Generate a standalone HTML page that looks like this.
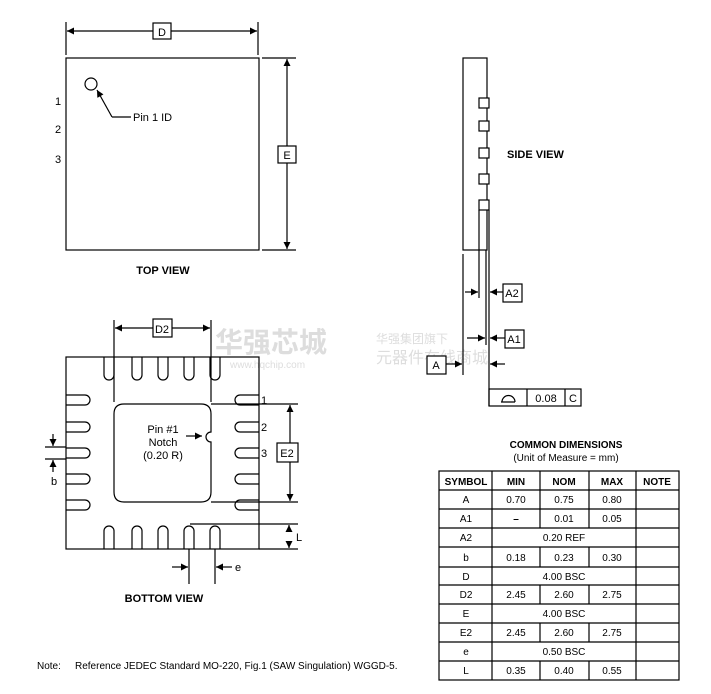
<!DOCTYPE html>
<html><head><meta charset="utf-8"><style>
html,body{margin:0;padding:0;background:#fff;}
svg{display:block;font-family:"Liberation Sans",Arial,sans-serif;}
</style></head><body>
<svg width="711" height="694" viewBox="0 0 711 694" xmlns="http://www.w3.org/2000/svg">
<defs>
<marker id="ar" viewBox="0 0 10 10" refX="10" refY="5" markerWidth="9" markerHeight="7" orient="auto-start-reverse" markerUnits="userSpaceOnUse"><path d="M0,0L10,5L0,10z" fill="#000"/></marker>
</defs>
<g fill="#ddd" font-family="'Liberation Sans','Noto Sans CJK SC',sans-serif">
<text x="215" y="352" font-size="28" font-weight="bold">华强芯城</text>
<text x="230" y="368" font-size="10">www.hqchip.com</text>
<text x="376" y="343" font-size="12">华强集团旗下</text>
<text x="376" y="363" font-size="16">元器件在线商城</text>
</g>
<g stroke="#000" stroke-width="1.2" fill="none">
<rect x="66" y="58" width="193" height="192"/>
<line x1="66" y1="22" x2="66" y2="55"/><line x1="258" y1="22" x2="258" y2="55"/>
<line x1="67" y1="31" x2="153" y2="31" marker-start="url(#ar)"/><line x1="171" y1="31" x2="257" y2="31" marker-end="url(#ar)"/>
<rect x="153" y="23" width="18" height="16" fill="#fff"/>
<line x1="262" y1="58" x2="296" y2="58"/><line x1="262" y1="250" x2="296" y2="250"/>
<line x1="287" y1="59" x2="287" y2="146" marker-start="url(#ar)"/><line x1="287" y1="163" x2="287" y2="249" marker-end="url(#ar)"/>
<rect x="278" y="146" width="18" height="17" fill="#fff"/>
<circle cx="91" cy="84" r="6"/>
<polyline points="112,117 131,117"/><line x1="112" y1="117" x2="97" y2="90" marker-end="url(#ar)"/>
<rect x="66" y="357" width="193" height="192"/>
<path d="M124,404 H201 Q211,404 211,414 V432 A5,5 0 0 0 211,442 V492 Q211,502 201,502 H124 Q114,502 114,492 V414 Q114,404 124,404 Z"/>
<g>
<path d="M104,357 V375 a5,5 0 0 0 10,0 V357"/><path d="M132,357 V375 a5,5 0 0 0 10,0 V357"/><path d="M158,357 V375 a5,5 0 0 0 10,0 V357"/><path d="M184,357 V375 a5,5 0 0 0 10,0 V357"/><path d="M210,357 V375 a5,5 0 0 0 10,0 V357"/>
<path d="M104,549 V531 a5,5 0 0 1 10,0 V549"/><path d="M132,549 V531 a5,5 0 0 1 10,0 V549"/><path d="M158,549 V531 a5,5 0 0 1 10,0 V549"/><path d="M184,549 V531 a5,5 0 0 1 10,0 V549"/><path d="M210,549 V531 a5,5 0 0 1 10,0 V549"/>
<path d="M66,395 H85 a5,5 0 0 1 0,10 H66"/><path d="M66,422 H85 a5,5 0 0 1 0,10 H66"/><path d="M66,448 H85 a5,5 0 0 1 0,10 H66"/><path d="M66,474 H85 a5,5 0 0 1 0,10 H66"/><path d="M66,500 H85 a5,5 0 0 1 0,10 H66"/>
<path d="M259,395 H240 a5,5 0 0 0 0,10 H259"/><path d="M259,422 H240 a5,5 0 0 0 0,10 H259"/><path d="M259,448 H240 a5,5 0 0 0 0,10 H259"/><path d="M259,474 H240 a5,5 0 0 0 0,10 H259"/><path d="M259,500 H240 a5,5 0 0 0 0,10 H259"/>
</g>
<line x1="114" y1="320" x2="114" y2="402"/><line x1="211" y1="320" x2="211" y2="402"/>
<line x1="115" y1="328" x2="153" y2="328" marker-start="url(#ar)"/><line x1="172" y1="328" x2="210" y2="328" marker-end="url(#ar)"/>
<rect x="153" y="319" width="19" height="18" fill="#fff"/>
<line x1="211" y1="404" x2="298" y2="404"/><line x1="211" y1="502" x2="298" y2="502"/>
<line x1="290" y1="405" x2="290" y2="443" marker-start="url(#ar)"/><line x1="290" y1="462" x2="290" y2="501" marker-end="url(#ar)"/>
<rect x="277" y="443" width="21" height="19" fill="#fff"/>
<line x1="190" y1="524" x2="298" y2="524"/><line x1="259" y1="549" x2="298" y2="549"/>
<line x1="289" y1="531" x2="289" y2="525" marker-end="url(#ar)"/><line x1="289" y1="542" x2="289" y2="548" marker-end="url(#ar)"/>
<line x1="189" y1="549" x2="189" y2="584"/><line x1="215" y1="549" x2="215" y2="584"/>
<line x1="172" y1="567" x2="188" y2="567" marker-end="url(#ar)"/><line x1="232" y1="567" x2="216" y2="567" marker-end="url(#ar)"/>
<line x1="45" y1="447" x2="66" y2="447"/><line x1="45" y1="459" x2="66" y2="459"/>
<line x1="53" y1="434" x2="53" y2="446" marker-end="url(#ar)"/><line x1="53" y1="472" x2="53" y2="460" marker-end="url(#ar)"/>
<line x1="186" y1="436" x2="202" y2="436" marker-end="url(#ar)"/>
<rect x="463" y="58" width="24" height="192"/>
<rect x="479" y="98" width="10" height="10" fill="#fff"/><rect x="479" y="121" width="10" height="10" fill="#fff"/><rect x="479" y="148" width="10" height="10" fill="#fff"/><rect x="479" y="174" width="10" height="10" fill="#fff"/><rect x="479" y="200" width="10" height="10" fill="#fff"/>
<line x1="463" y1="254" x2="463" y2="375"/><line x1="479" y1="210" x2="479" y2="298"/>
<line x1="486" y1="250" x2="486" y2="345"/><line x1="489" y1="210" x2="489" y2="406"/>
<line x1="465" y1="292" x2="478" y2="292" marker-end="url(#ar)"/><line x1="503" y1="292" x2="490" y2="292" marker-end="url(#ar)"/>
<rect x="503" y="284" width="19" height="18" fill="#fff"/>
<line x1="467" y1="338" x2="485" y2="338" marker-end="url(#ar)"/><line x1="505" y1="338" x2="490" y2="338" marker-end="url(#ar)"/>
<rect x="505" y="330" width="19" height="18" fill="#fff"/>
<line x1="446" y1="364" x2="462" y2="364" marker-end="url(#ar)"/><line x1="505" y1="364" x2="490" y2="364" marker-end="url(#ar)"/>
<rect x="427" y="356" width="19" height="18" fill="#fff"/>
<rect x="489" y="389" width="92" height="17"/><line x1="527" y1="389" x2="527" y2="406"/><line x1="565" y1="389" x2="565" y2="406"/>
<path d="M501,402 H515 M502,402 a6.5,6.5 0 0 1 13,0"/>
<rect x="439" y="471" width="240" height="209"/>
<line x1="439" y1="490" x2="679" y2="490"/><line x1="439" y1="509" x2="679" y2="509"/><line x1="439" y1="528" x2="679" y2="528"/><line x1="439" y1="547" x2="679" y2="547"/><line x1="439" y1="567" x2="679" y2="567"/><line x1="439" y1="585" x2="679" y2="585"/><line x1="439" y1="604" x2="679" y2="604"/><line x1="439" y1="623" x2="679" y2="623"/><line x1="439" y1="642" x2="679" y2="642"/><line x1="439" y1="661" x2="679" y2="661"/>
<line x1="492" y1="471" x2="492" y2="680"/><line x1="636" y1="471" x2="636" y2="680"/>
<path d="M540,471V528 M589,471V528 M540,547V567 M589,547V567 M540,585V604 M589,585V604 M540,623V642 M589,623V642 M540,661V680 M589,661V680"/>
</g>
<g font-size="11" fill="#000">
<text x="162" y="36" text-anchor="middle">D</text>
<text x="287" y="159" text-anchor="middle">E</text>
<text x="133" y="121">Pin 1 ID</text>
<text x="58" y="105" text-anchor="middle">1</text><text x="58" y="133" text-anchor="middle">2</text><text x="58" y="163" text-anchor="middle">3</text>
<text x="163" y="274" text-anchor="middle" font-weight="bold">TOP VIEW</text>
<text x="162" y="333" text-anchor="middle">D2</text>
<text x="287" y="457" text-anchor="middle">E2</text>
<text x="296" y="541">L</text><text x="235" y="571">e</text><text x="54" y="485" text-anchor="middle">b</text>
<text x="261" y="404">1</text><text x="261" y="431">2</text><text x="261" y="457">3</text>
<text x="163" y="433" text-anchor="middle">Pin #1</text><text x="163" y="446" text-anchor="middle">Notch</text><text x="163" y="459" text-anchor="middle">(0.20 R)</text>
<text x="164" y="602" text-anchor="middle" font-weight="bold">BOTTOM VIEW</text>
<text x="507" y="158" font-weight="bold">SIDE VIEW</text>
<text x="512" y="297" text-anchor="middle">A2</text><text x="514" y="343" text-anchor="middle">A1</text><text x="436" y="369" text-anchor="middle">A</text>
<text x="546" y="402" text-anchor="middle">0.08</text><text x="573" y="402" text-anchor="middle">C</text>
<text x="566" y="448" text-anchor="middle" font-weight="bold" font-size="10">COMMON DIMENSIONS</text>
<text x="566" y="461" text-anchor="middle" font-size="10">(Unit of Measure = mm)</text>
<text x="37" y="669" font-size="10">Note:</text>
<text x="75" y="669" font-size="10">Reference JEDEC Standard MO-220, Fig.1 (SAW Singulation) WGGD-5.</text>
</g>
<g font-size="10" fill="#000" text-anchor="middle">
<g font-weight="bold"><text x="466" y="485">SYMBOL</text><text x="516" y="485">MIN</text><text x="564" y="485">NOM</text><text x="612" y="485">MAX</text><text x="657" y="485">NOTE</text></g>
<text x="466" y="503">A</text><text x="516" y="503">0.70</text><text x="564" y="503">0.75</text><text x="612" y="503">0.80</text>
<text x="466" y="522">A1</text><text x="516" y="522" font-weight="bold">–</text><text x="564" y="522">0.01</text><text x="612" y="522">0.05</text>
<text x="466" y="541">A2</text><text x="564" y="541">0.20 REF</text>
<text x="466" y="561">b</text><text x="516" y="561">0.18</text><text x="564" y="561">0.23</text><text x="612" y="561">0.30</text>
<text x="466" y="580">D</text><text x="564" y="580">4.00 BSC</text>
<text x="466" y="598">D2</text><text x="516" y="598">2.45</text><text x="564" y="598">2.60</text><text x="612" y="598">2.75</text>
<text x="466" y="617">E</text><text x="564" y="617">4.00 BSC</text>
<text x="466" y="636">E2</text><text x="516" y="636">2.45</text><text x="564" y="636">2.60</text><text x="612" y="636">2.75</text>
<text x="466" y="655">e</text><text x="564" y="655">0.50 BSC</text>
<text x="466" y="674">L</text><text x="516" y="674">0.35</text><text x="564" y="674">0.40</text><text x="612" y="674">0.55</text>
</g>
</svg>
</body></html>
